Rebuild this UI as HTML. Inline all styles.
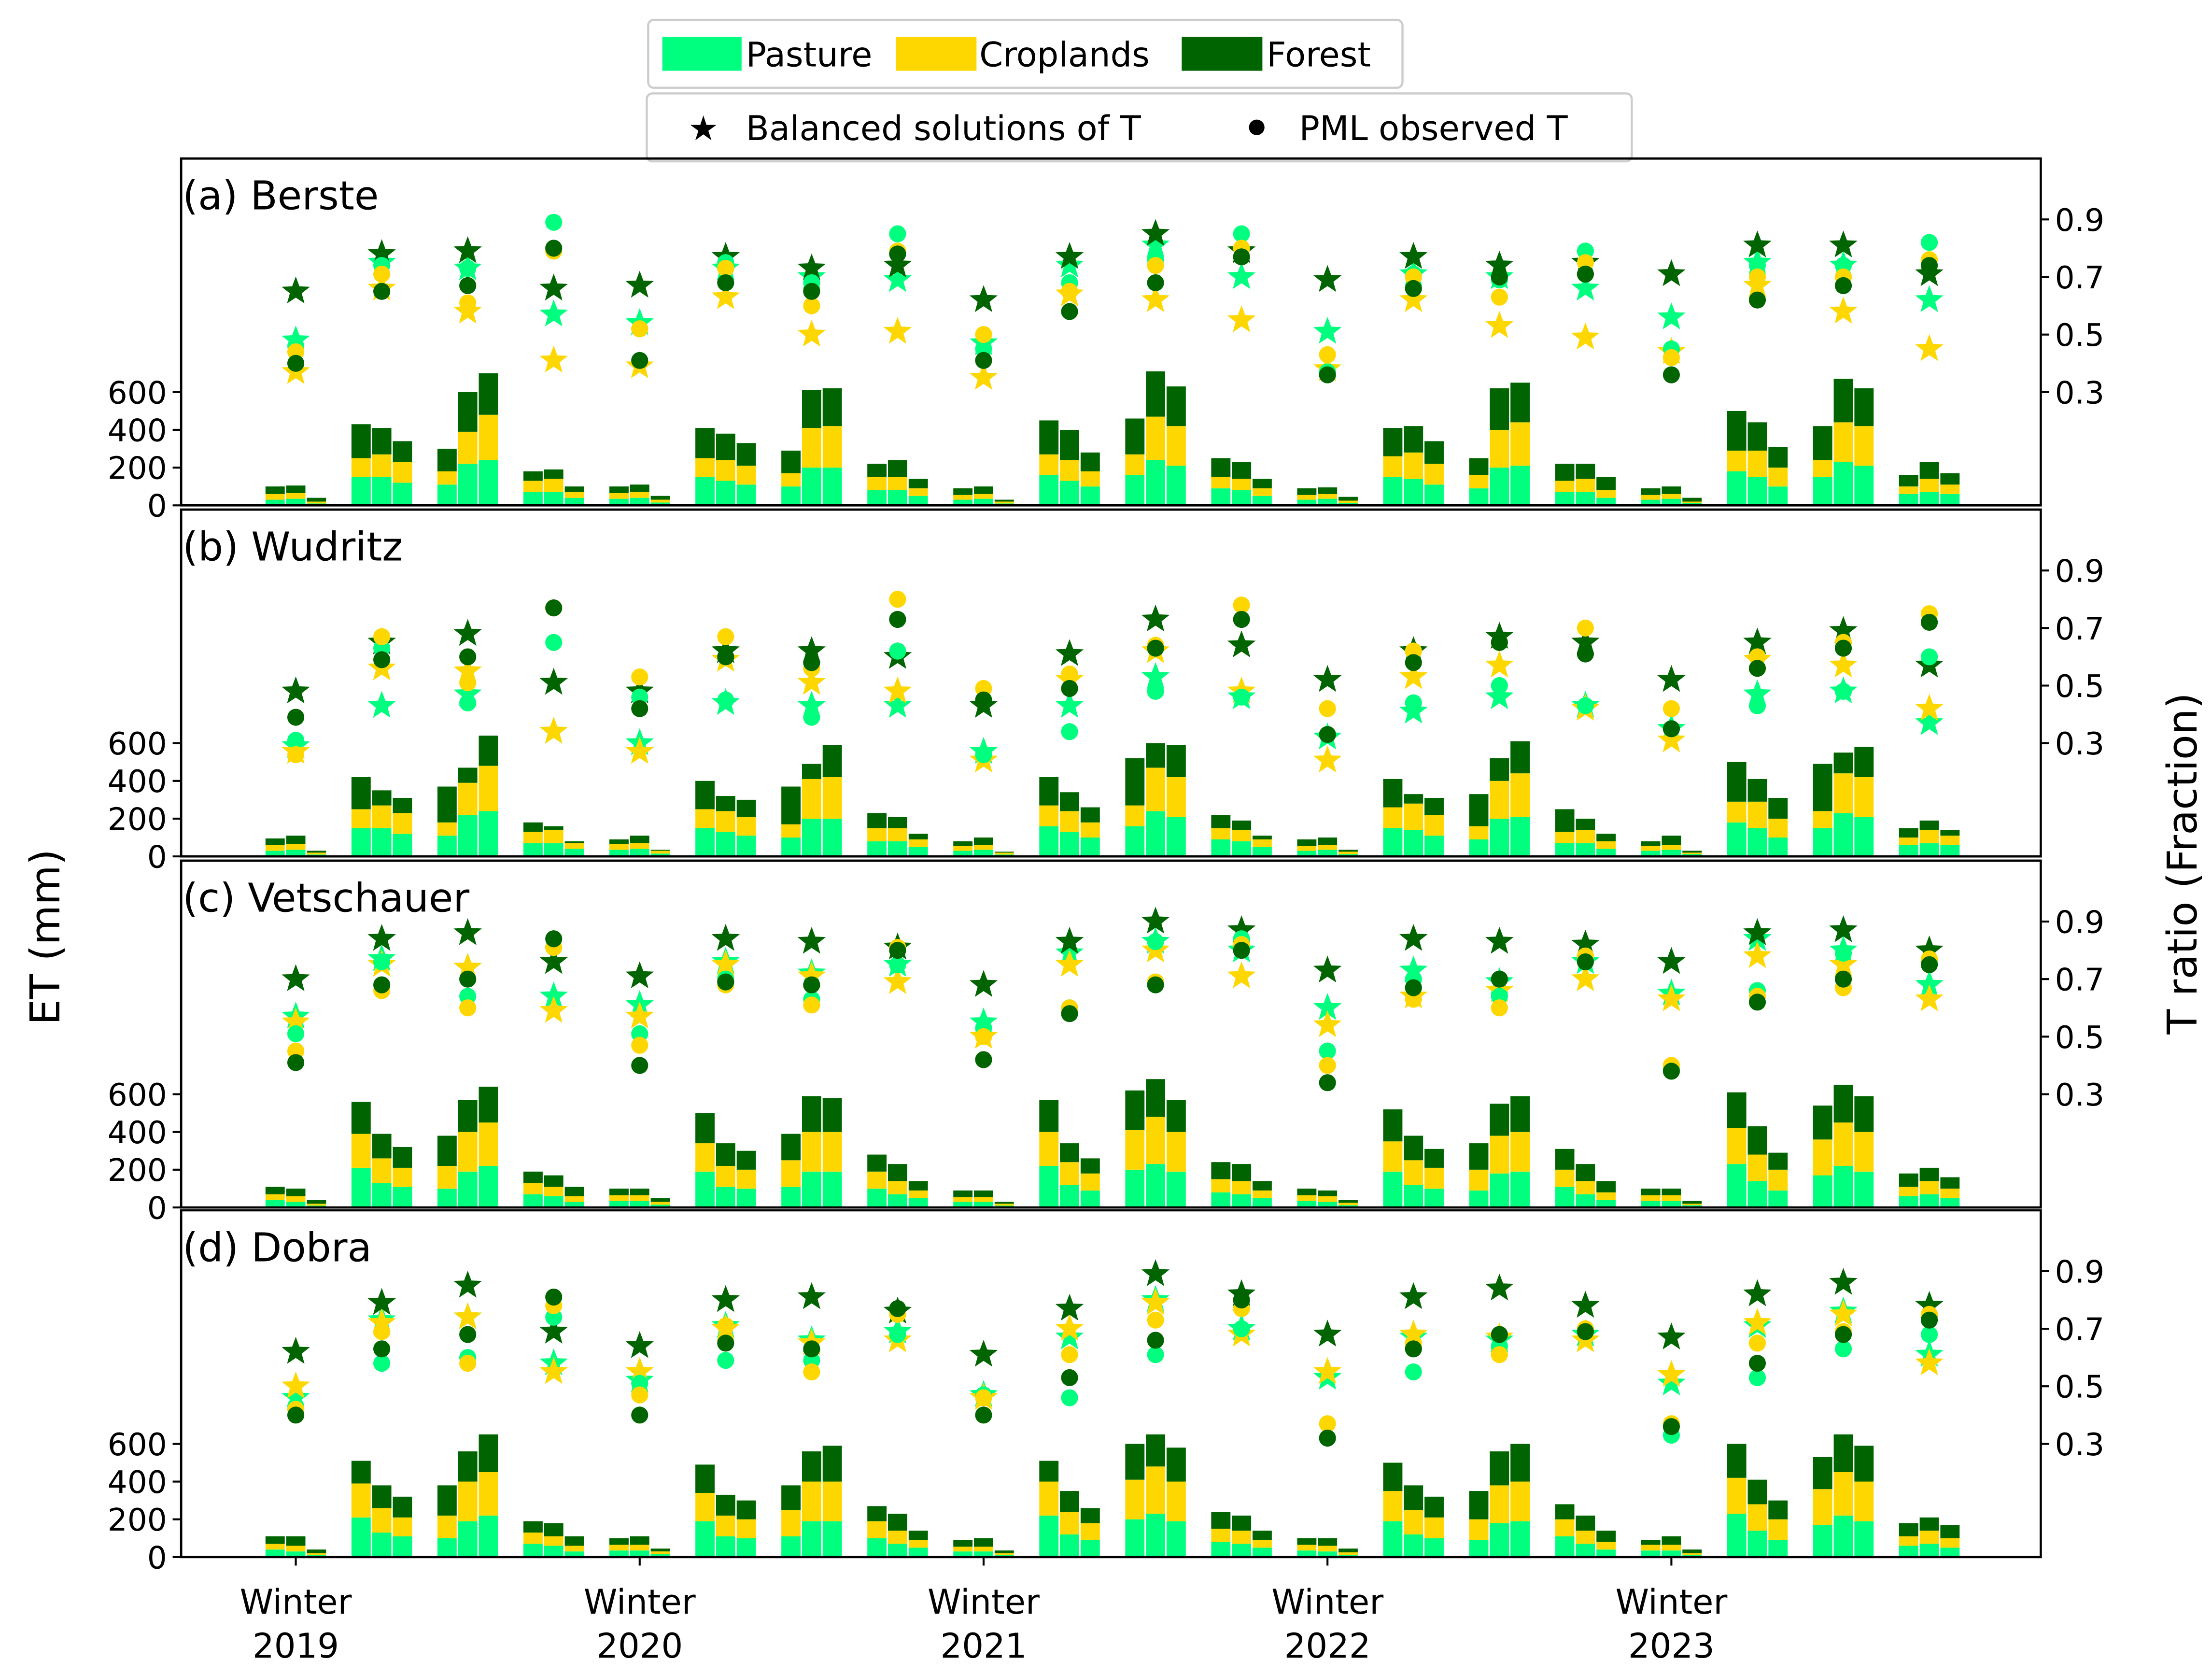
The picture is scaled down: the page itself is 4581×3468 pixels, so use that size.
<!DOCTYPE html>
<html><head><meta charset="utf-8"><style>
html,body{margin:0;padding:0;background:#fff}
svg{display:block;font-family:"DejaVu Sans","Liberation Sans",sans-serif}
</style></head><body>
<svg id="chart" width="4581" height="3468" viewBox="0 0 1563 1183.3" preserveAspectRatio="none" xmlns="http://www.w3.org/2000/svg">
<rect width="1563" height="1183.3" fill="#fff"/>
<g id="legend1">
<rect x="458" y="14" width="533" height="48" rx="4" fill="#fff" stroke="#ccc" stroke-width="1.5"/>
<rect x="468" y="26" width="56" height="24" fill="#00ff7f"/>
<text x="527" y="47" font-size="24">Pasture</text>
<rect x="633" y="26" width="57" height="24" fill="#ffd700"/>
<text x="692" y="47" font-size="24">Croplands</text>
<rect x="835" y="26" width="57" height="24" fill="#006400"/>
<text x="895" y="47" font-size="24">Forest</text>
</g>
<g id="legend2">
<rect x="457" y="66" width="696" height="48" rx="4" fill="#fff" stroke="#ccc" stroke-width="1.5"/>
<text x="497" y="99" font-size="24" text-anchor="middle">★</text>
<text x="527" y="99" font-size="24">Balanced solutions of T</text>
<circle cx="888" cy="90" r="5.5" fill="#000"/>
<text x="918" y="99" font-size="24">PML observed T</text>
</g>
<text x="42" y="662" font-size="29" text-anchor="middle" transform="rotate(-90 42 662)">ET (mm)</text>
<text x="1552" y="610" font-size="29" text-anchor="middle" transform="rotate(-90 1552 610)">T ratio (Fraction)</text>
<g id="plots"></g>
</svg>
<script>
// ---- data ----
const seasons = ["W19","Sp19","Su19","Au19","W20","Sp20","Su20","Au20","W21","Sp21","Su21","Au21","W22","Sp22","Su22","Au22","W23","Sp23","Su23","Au23"];
const panelTitles = ["(a) Berste","(b) Wudritz","(c) Vetschauer","(d) Dobra"];
const xTickLabels = [["Winter","2019"],["Winter","2020"],["Winter","2021"],["Winter","2022"],["Winter","2023"]];
const xTickSeasonIdx = [0,4,8,12,16];
const etTicks = [0,200,400,600];
const ratioTicks = [0.3,0.5,0.7,0.9];

// cumulative tops: pasture top, cropland top, total (mm); 3 months per season
const pasTopA = [30,35,10, 150,150,120, 110,220,240, 70,70,40, 35,40,15, 150,130,110, 100,200,200, 80,80,50, 30,35,10, 160,130,100, 160,240,210, 90,80,50, 30,35,12, 150,140,110, 90,200,210, 70,70,40, 30,35,12, 180,150,100, 150,230,210, 60,70,60];
const crpTopA = [60,65,20, 250,270,230, 180,390,480, 130,140,70, 65,70,30, 250,240,210, 170,410,420, 150,150,90, 55,60,20, 270,240,180, 270,470,420, 150,140,90, 55,60,25, 260,280,220, 160,400,440, 130,140,80, 55,60,20, 290,290,200, 240,440,420, 100,140,110];
const pasTopC = [40,30,10, 210,130,110, 100,190,220, 70,60,30, 35,35,15, 190,110,100, 110,190,190, 100,70,50, 30,30,10, 220,120,90, 200,230,190, 80,70,50, 35,30,12, 190,120,100, 90,180,190, 110,70,40, 35,35,12, 230,140,90, 170,220,190, 60,70,50];
const crpTopC = [70,60,20, 390,260,210, 220,400,450, 130,110,60, 65,65,30, 340,220,200, 250,400,400, 190,140,90, 55,55,20, 400,240,180, 410,480,400, 150,140,90, 65,60,25, 350,250,210, 200,380,400, 200,140,80, 65,65,20, 420,280,200, 360,450,400, 110,140,100];
const totalA = [100,105,40, 430,410,340, 300,600,700, 180,190,100, 100,110,50, 410,380,330, 290,610,620, 220,240,140, 90,100,30, 450,400,280, 460,710,630, 250,230,140, 90,95,45, 410,420,340, 250,620,650, 220,220,150, 90,100,40, 500,440,310, 420,670,620, 160,230,170];
const totalB = [95,110,30, 420,350,310, 370,470,640, 180,160,80, 90,110,35, 400,320,300, 370,490,590, 230,210,120, 80,100,25, 420,340,260, 520,600,590, 220,190,110, 90,100,35, 410,330,310, 330,520,610, 250,200,120, 80,110,30, 500,410,310, 490,550,580, 150,190,140];
const totalC = [110,100,40, 560,390,320, 380,570,640, 190,170,110, 100,100,50, 500,340,300, 390,590,580, 280,230,140, 90,90,30, 570,340,260, 620,680,570, 240,230,140, 100,90,40, 520,380,310, 340,550,590, 310,230,140, 100,100,35, 610,430,290, 540,650,590, 180,210,160];
const totalD = [110,110,40, 510,380,320, 380,560,650, 190,180,110, 100,110,45, 490,330,300, 380,560,590, 270,230,140, 90,100,35, 510,350,260, 600,650,580, 240,220,140, 100,100,45, 500,380,320, 350,560,600, 280,220,140, 90,110,40, 600,410,300, 530,650,590, 180,210,170];

// T ratio markers per season
const starP_a=[.48,.75,.73,.57,.54,.73,.70,.69,.47,.74,.81,.70,.51,.71,.70,.66,.56,.75,.74,.62];
const starC_a=[.37,.66,.58,.41,.39,.63,.50,.51,.35,.64,.62,.55,.38,.62,.53,.49,.44,.67,.58,.45];
const starF_a=[.65,.78,.79,.66,.67,.77,.73,.74,.62,.77,.85,.79,.69,.77,.74,.75,.71,.81,.81,.71];
const dotP_a=[.46,.74,.73,.89,.52,.75,.68,.85,.45,.68,.76,.85,.37,.71,.69,.79,.45,.74,.74,.82];
const dotC_a=[.44,.71,.61,.79,.52,.73,.60,.79,.50,.65,.74,.80,.43,.70,.63,.75,.42,.70,.70,.76];
const dotF_a=[.40,.65,.67,.80,.41,.68,.65,.78,.41,.58,.68,.77,.36,.66,.70,.71,.36,.62,.67,.74];
const starP_b=[.29,.43,.47,.34,.30,.44,.43,.43,.27,.43,.53,.46,.32,.41,.46,.43,.35,.47,.48,.37];
const starC_b=[.27,.56,.55,.34,.27,.59,.51,.48,.24,.52,.62,.48,.24,.53,.57,.42,.31,.59,.57,.42];
const starF_b=[.48,.65,.68,.51,.48,.62,.62,.60,.43,.61,.73,.64,.52,.62,.67,.65,.52,.65,.69,.57];
const dotP_b=[.31,.63,.44,.65,.46,.45,.39,.62,.26,.34,.48,.46,.33,.44,.50,.43,.35,.43,.48,.60];
const dotC_b=[.26,.67,.51,.77,.53,.67,.56,.80,.49,.54,.64,.78,.42,.62,.65,.70,.42,.60,.65,.75];
const dotF_b=[.39,.59,.60,.77,.42,.60,.58,.73,.45,.49,.63,.73,.33,.58,.65,.61,.35,.56,.63,.72];
const starP_c=[.57,.77,.74,.64,.61,.76,.72,.75,.55,.79,.83,.80,.60,.73,.69,.76,.65,.84,.80,.68];
const starC_c=[.55,.75,.74,.59,.57,.75,.71,.69,.50,.75,.80,.71,.54,.64,.66,.70,.63,.78,.75,.63];
const starF_c=[.70,.84,.86,.76,.71,.84,.83,.81,.68,.83,.90,.87,.73,.84,.83,.82,.76,.86,.87,.80];
const dotP_c=[.51,.76,.64,.81,.51,.70,.63,.75,.53,.60,.83,.84,.45,.70,.64,.78,.39,.66,.79,.76];
const dotC_c=[.45,.66,.60,.81,.47,.68,.61,.81,.50,.60,.69,.82,.40,.63,.60,.78,.40,.64,.67,.77];
const dotF_c=[.41,.68,.70,.84,.40,.69,.68,.80,.42,.58,.68,.80,.34,.67,.70,.76,.38,.62,.70,.75];
const starP_d=[.46,.73,.74,.58,.52,.71,.66,.69,.47,.67,.80,.70,.53,.67,.66,.68,.51,.71,.76,.61];
const starC_d=[.50,.72,.74,.55,.55,.70,.65,.66,.46,.70,.79,.68,.55,.68,.67,.66,.54,.72,.75,.58];
const starF_d=[.62,.79,.85,.69,.64,.80,.81,.76,.61,.77,.89,.82,.68,.81,.84,.78,.67,.82,.86,.78];
const dotP_d=[.43,.58,.60,.74,.51,.59,.59,.68,.47,.46,.61,.70,.32,.55,.64,.69,.33,.53,.63,.68];
const dotC_d=[.42,.69,.58,.78,.47,.71,.55,.75,.46,.61,.73,.77,.37,.65,.61,.70,.37,.65,.69,.75];
const dotF_d=[.40,.63,.68,.81,.40,.65,.63,.77,.40,.53,.66,.80,.32,.63,.68,.69,.36,.58,.68,.73];

const panels = [
 {pas:pasTopA,crp:crpTopA,tot:totalA,sP:starP_a,sC:starC_a,sF:starF_a,dP:dotP_a,dC:dotC_a,dF:dotF_a},
 {pas:pasTopA,crp:crpTopA,tot:totalB,sP:starP_b,sC:starC_b,sF:starF_b,dP:dotP_b,dC:dotC_b,dF:dotF_b},
 {pas:pasTopC,crp:crpTopC,tot:totalC,sP:starP_c,sC:starC_c,sF:starF_c,dP:dotP_c,dC:dotC_c,dF:dotF_c},
 {pas:pasTopC,crp:crpTopC,tot:totalD,sP:starP_d,sC:starC_d,sF:starF_d,dP:dotP_d,dC:dotC_d,dF:dotF_d}
];

// ---- layout ----
const NS="http://www.w3.org/2000/svg";
const X0=128, X1=1442, panelTops=[112,360,608,855], PH=245;
const COL={P:"#00ff7f",C:"#ffd700",F:"#006400"};
const xSeason = i => 209 + i*60.75;
const xBar = (i,m) => xSeason(i) + (m-1)*14.6;
function mk(tag, attrs, parent){const e=document.createElementNS(NS,tag);for(const k in attrs)e.setAttribute(k,attrs[k]);parent.appendChild(e);return e;}
function starPath(cx,cy,R){const r=R*0.42;let d="";for(let k=0;k<10;k++){const a=-Math.PI/2+k*Math.PI/5;const rr=k%2?r:R;d+=(k?"L":"M")+(cx+rr*Math.cos(a)).toFixed(2)+","+(cy+rr*Math.sin(a)).toFixed(2);}return d+"Z";}
const root=document.getElementById("plots");

panels.forEach((p,pi)=>{
  const top=panelTops[pi], bot=top+PH;
  const yET = v => bot - v*80/600;
  const yR = v => (top+165) - (v-0.3)*203.3;
  const g=mk("g",{},root);
  
  
  for(let i=0;i<seasons.length;i++){
    for(let m=0;m<3;m++){
      const k=i*3+m, x=xBar(i,m)-6.8, w=13.6;
      const a=p.pas[k], c=p.crp[k], t=p.tot[k];
      const r1=mk("rect",{x:x,y:yET(a),width:w,height:yET(0)-yET(a),fill:COL.P},g);
      
      
      const r2=mk("rect",{x:x,y:yET(c),width:w,height:yET(a)-yET(c),fill:COL.C},g);
      
      
      const r3=mk("rect",{x:x,y:yET(t),width:w,height:yET(c)-yET(t),fill:COL.F},g);
      
      
    }
  }
  [["sP","P"],["sC","C"],["sF","F"]].forEach(([key,c])=>{
    p[key].forEach((v,i)=>{
      const s=mk("path",{d:starPath(xSeason(i),yR(v),10.5),fill:COL[c]},g);
      
      
    });
  });
  [["dP","P"],["dC","C"],["dF","F"]].forEach(([key,c])=>{
    p[key].forEach((v,i)=>{
      const d=mk("circle",{cx:xSeason(i),cy:yR(v),r:6,fill:COL[c]},g);
      
      
    });
  });
  const fr=mk("rect",{x:X0,y:top,width:X1-X0,height:PH,fill:"none",stroke:"#000","stroke-width":1.6},g);
  
  
  etTicks.forEach(v=>{
    mk("line",{x1:X0-6,x2:X0,y1:yET(v),y2:yET(v),stroke:"#000","stroke-width":1.4},g);
    const t=mk("text",{x:X0-10,y:yET(v)+8,"font-size":22,"text-anchor":"end"},g);
    t.textContent=v;
    
    
  });
  ratioTicks.forEach(v=>{
    mk("line",{x1:X1,x2:X1+6,y1:yR(v),y2:yR(v),stroke:"#000","stroke-width":1.4},g);
    const t=mk("text",{x:X1+10,y:yR(v)+8,"font-size":22},g);
    t.textContent=v.toFixed(1);
    
    
  });
  const tt=mk("text",{x:129,y:top+36,"font-size":28},g);
  tt.textContent=panelTitles[pi];
  
  
});
const bot=panelTops[3]+PH;
xTickSeasonIdx.forEach((si,j)=>{
  const x=xSeason(si);
  mk("line",{x1:x,x2:x,y1:bot,y2:bot+6,stroke:"#000","stroke-width":1.4},root);
  const t=mk("text",{x:x,y:bot+40,"font-size":24,"text-anchor":"middle"},root);
  t.textContent=xTickLabels[j][0];
  
  
  const t2=mk("text",{x:x,y:bot+71,"font-size":24,"text-anchor":"middle"},root);
  t2.textContent=xTickLabels[j][1];
  
  
});
</script>
</body></html>
